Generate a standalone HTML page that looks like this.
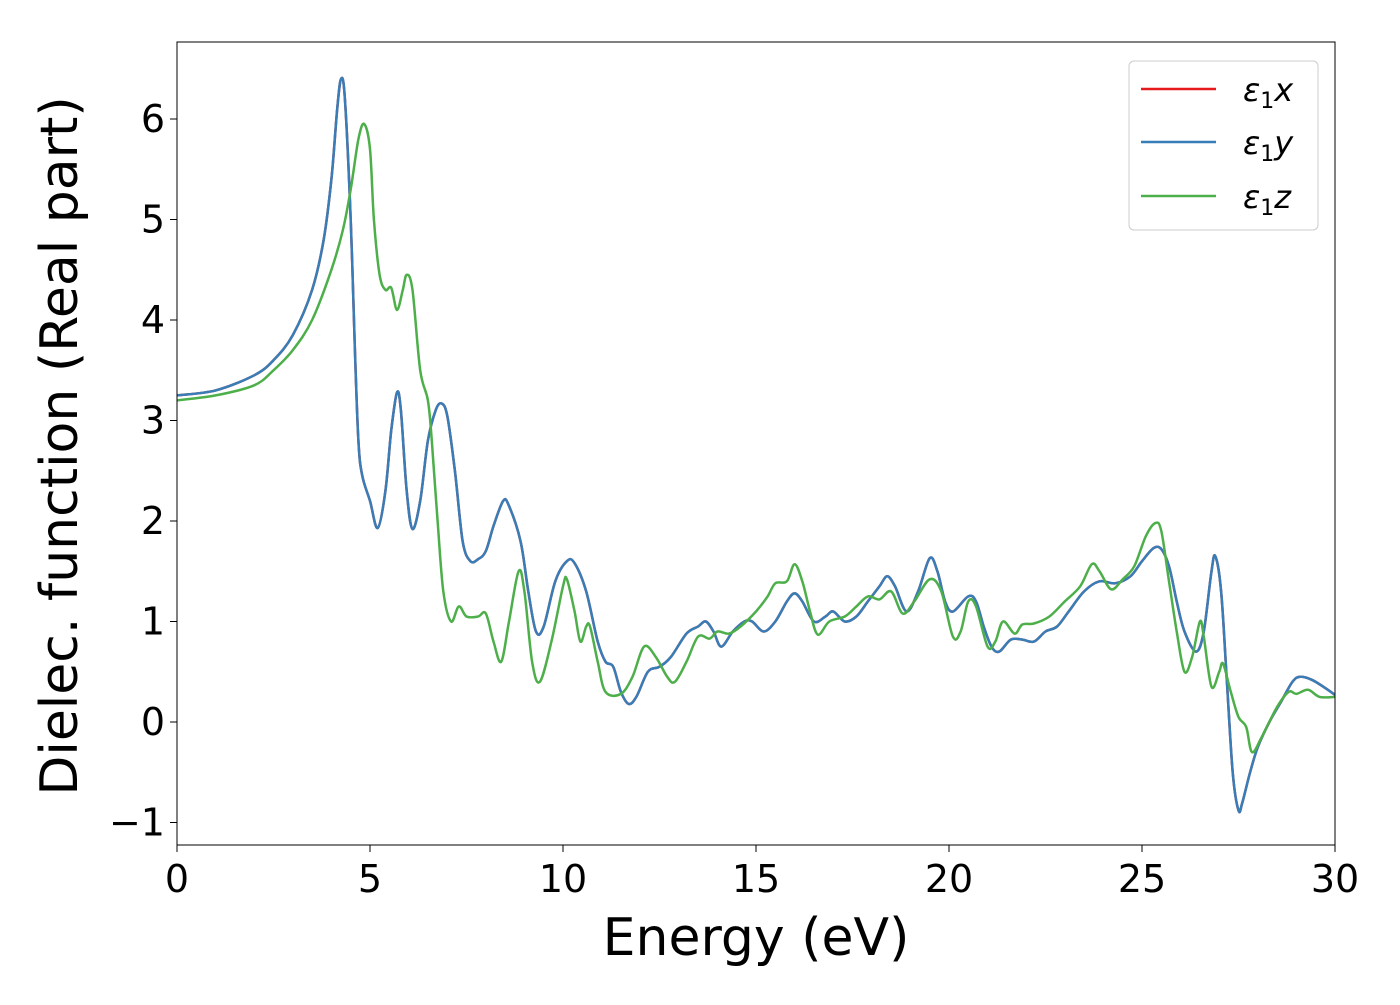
<!DOCTYPE html>
<html><head><meta charset="utf-8"><style>
html,body{margin:0;padding:0;background:#fff;}
svg text{font-family:"DejaVu Sans","Liberation Sans",sans-serif;}
</style></head><body>
<svg id="chart" width="1400" height="1000" xmlns="http://www.w3.org/2000/svg">
<defs><clipPath id="clip"><rect x="177" y="42" width="1158" height="803"/></clipPath></defs>
<g id="plot"></g>
</svg>
<script>
const xTicks=[0,5,10,15,20,25,30];
const yTicks=[-1,0,1,2,3,4,5,6];
const yTickLabels=["\u22121","0","1","2","3","4","5","6"];
const blueE=[0,1,2,2.5,3,3.5,3.8,4.0,4.15,4.25,4.35,4.5,4.6,4.7,4.8,5.0,5.2,5.4,5.55,5.7,5.8,5.95,6.1,6.3,6.5,6.7,6.85,7.0,7.2,7.4,7.6,7.8,8.0,8.2,8.45,8.6,8.9,9.1,9.3,9.5,9.8,10.1,10.3,10.6,10.9,11.1,11.3,11.5,11.7,11.9,12.2,12.5,12.8,13.2,13.5,13.7,13.9,14.1,14.4,14.7,14.9,15.2,15.5,15.8,16.0,16.2,16.5,16.8,17.0,17.3,17.6,17.9,18.2,18.4,18.6,18.9,19.2,19.5,19.7,19.9,20.1,20.5,20.7,20.9,21.1,21.3,21.6,21.9,22.2,22.5,22.8,23.1,23.5,23.9,24.3,24.7,25.0,25.3,25.5,25.7,25.9,26.1,26.4,26.6,26.8,26.9,27.05,27.2,27.35,27.5,27.6,27.8,28.0,28.3,28.6,28.9,29.1,29.4,29.7,30];
const blueV=[3.25,3.3,3.45,3.6,3.85,4.3,4.8,5.4,6.1,6.4,6.2,5.0,3.8,2.8,2.45,2.2,1.93,2.3,2.9,3.28,3.1,2.3,1.92,2.2,2.8,3.1,3.17,3.05,2.5,1.8,1.6,1.62,1.7,1.95,2.2,2.15,1.8,1.3,0.9,0.95,1.4,1.6,1.58,1.3,0.8,0.6,0.55,0.3,0.18,0.25,0.5,0.55,0.65,0.88,0.95,1.0,0.9,0.75,0.9,1.0,1.0,0.9,1.0,1.2,1.28,1.2,1.0,1.05,1.1,1.0,1.05,1.2,1.35,1.45,1.35,1.1,1.3,1.63,1.5,1.2,1.1,1.25,1.2,0.95,0.75,0.7,0.82,0.82,0.8,0.9,0.95,1.1,1.3,1.4,1.38,1.45,1.6,1.73,1.72,1.55,1.2,0.9,0.7,0.9,1.5,1.65,1.3,0.4,-0.5,-0.88,-0.8,-0.5,-0.25,0.0,0.2,0.4,0.45,0.42,0.35,0.27];
const greenE=[0,1,2,2.5,3,3.5,4.0,4.3,4.5,4.7,4.85,5.0,5.1,5.25,5.4,5.55,5.7,5.85,5.95,6.1,6.3,6.5,6.6,6.75,6.9,7.1,7.3,7.5,7.8,8.0,8.2,8.4,8.6,8.85,9.0,9.2,9.4,9.7,10.0,10.1,10.3,10.45,10.6,10.7,10.9,11.1,11.5,11.8,12.1,12.4,12.7,12.9,13.2,13.5,13.8,14.0,14.3,14.6,15.0,15.3,15.5,15.8,16.0,16.2,16.4,16.6,16.9,17.3,17.6,17.9,18.2,18.5,18.8,19.1,19.5,19.8,20.1,20.3,20.5,20.7,21.0,21.2,21.4,21.7,21.9,22.2,22.6,23.0,23.4,23.7,23.9,24.2,24.5,24.8,25.1,25.35,25.5,25.7,25.9,26.1,26.3,26.5,26.6,26.8,27.0,27.1,27.3,27.5,27.7,27.85,28.1,28.5,28.8,29.0,29.3,29.6,30];
const greenV=[3.2,3.25,3.35,3.5,3.7,4.0,4.5,4.9,5.3,5.8,5.95,5.7,5.0,4.45,4.3,4.32,4.1,4.3,4.45,4.3,3.5,3.2,2.8,2.0,1.3,1.0,1.15,1.05,1.05,1.08,0.8,0.6,1.0,1.5,1.3,0.6,0.4,0.8,1.35,1.42,1.1,0.8,0.95,0.95,0.6,0.3,0.28,0.45,0.75,0.65,0.45,0.4,0.6,0.85,0.83,0.9,0.88,0.95,1.1,1.25,1.38,1.4,1.57,1.4,1.1,0.87,1.0,1.05,1.15,1.25,1.22,1.3,1.08,1.2,1.42,1.3,0.85,0.9,1.2,1.15,0.75,0.8,1.0,0.88,0.97,0.98,1.05,1.2,1.35,1.57,1.5,1.32,1.42,1.55,1.85,1.98,1.9,1.4,0.9,0.5,0.65,1.0,0.85,0.35,0.5,0.58,0.3,0.05,-0.05,-0.3,-0.15,0.15,0.3,0.28,0.32,0.25,0.25];
const L=177,R=1335,T=42,B=845,Y0=722,YS=100.5;
const sx=v=>L+(v-0)*(R-L)/30;
const sy=v=>Y0-v*YS;
const NS="http://www.w3.org/2000/svg";
const g=document.getElementById('plot');
function mk(tag,attrs,parent){const e=document.createElementNS(NS,tag);for(const k in attrs)e.setAttribute(k,attrs[k]);(parent||g).appendChild(e);return e;}
function smooth(xs,ys){const p=xs.map((x,i)=>[sx(x),sy(ys[i])]);let d="M"+p[0][0].toFixed(1)+","+p[0][1].toFixed(1);
for(let i=0;i<p.length-1;i++){const p0=p[Math.max(0,i-1)],p1=p[i],p2=p[i+1],p3=p[Math.min(p.length-1,i+2)];
const c1=[p1[0]+(p2[0]-p0[0])/6,p1[1]+(p2[1]-p0[1])/6],c2=[p2[0]-(p3[0]-p1[0])/6,p2[1]-(p3[1]-p1[1])/6];
d+="C"+c1[0].toFixed(1)+","+c1[1].toFixed(1)+" "+c2[0].toFixed(1)+","+c2[1].toFixed(1)+" "+p2[0].toFixed(1)+","+p2[1].toFixed(1);}return d;}
const lines=mk('g',{'clip-path':'url(#clip)'});


let e;
e=mk('path',{d:smooth(blueE,blueV),fill:'none',stroke:'#e41a1c','stroke-width':2.5},lines);


e=mk('path',{d:smooth(blueE,blueV),fill:'none',stroke:'#377eb8','stroke-width':2.5},lines);


e=mk('path',{d:smooth(greenE,greenV),fill:'none',stroke:'#4daf4a','stroke-width':2.5},lines);


e=mk('rect',{x:L,y:T,width:R-L,height:B-T,fill:'none',stroke:'#000','stroke-width':1});


xTicks.forEach(v=>{const x=sx(v);
e=mk('line',{x1:x,x2:x,y1:B,y2:B+7,stroke:'#000','stroke-width':1});


e=mk('text',{x:x,y:B+47,'font-size':38,'text-anchor':'middle'});e.textContent=v;

});
yTicks.forEach((v,i)=>{const y=sy(v);
e=mk('line',{x1:L-7,x2:L,y1:y,y2:y,stroke:'#000','stroke-width':1});


e=mk('text',{x:L-12,y:y+13,'font-size':38,'text-anchor':'end'});e.textContent=yTickLabels[i];

});
e=mk('text',{x:(L+R)/2,y:955,'font-size':52,'text-anchor':'middle'});e.textContent='Energy (eV)';


e=mk('text',{x:0,y:0,'font-size':52,'text-anchor':'middle',transform:'translate(77,446) rotate(-90)'});e.textContent='Dielec. function (Real part)';


const leg=mk('g',{});


e=mk('rect',{x:1129,y:61,width:189,height:169,rx:5,fill:'#fff','fill-opacity':0.8,stroke:'#ccc','stroke-width':1},leg);


const legCols=['#e41a1c','#377eb8','#4daf4a'],legSub=['x','y','z'],legY=[89,142,196];
legCols.forEach((c,i)=>{
const en=mk('g',{},leg);


mk('line',{x1:1141,x2:1216,y1:legY[i],y2:legY[i],stroke:c,'stroke-width':2.5},en);
const t=mk('text',{x:1243,y:legY[i]+12,'font-size':32},en);
t.innerHTML='<tspan font-style="italic">\u03b5</tspan><tspan font-size="22" dy="7">1</tspan><tspan font-style="italic" dy="-7">'+legSub[i]+'</tspan>';
});
</script>
</body></html>
